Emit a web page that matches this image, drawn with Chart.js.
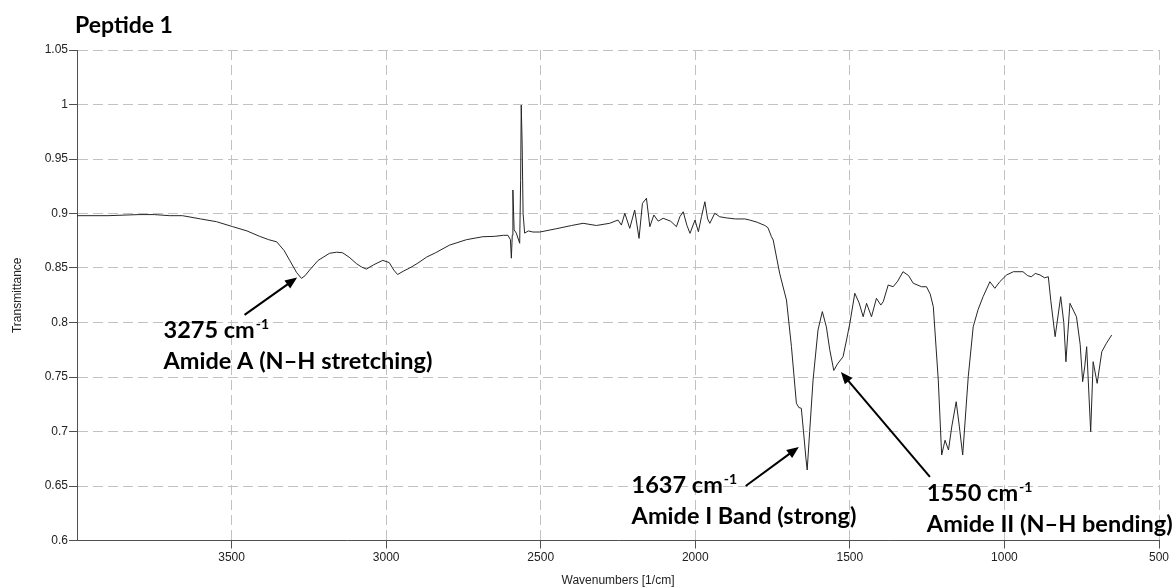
<!DOCTYPE html>
<html>
<head>
<meta charset="utf-8">
<script src="https://cdn.jsdelivr.net/npm/chart.js@4"></script>
<style>
  html, body { margin: 0; padding: 0; background: #fff; }
  #wrap { width: 1176px; height: 588px; position: relative; }
</style>
</head>
<body>
<div id="wrap"><canvas id="irChart" width="1176" height="588"></canvas></div>
<script>
var wavenumbers = [4000,3900,3800,3750,3700,3659,3600,3549,3497,3450,3409,3380,3354,3330,3312,3290,3274,3262,3248,3220,
  3183,3160,3141,3120,3096,3080,3064,3040,3011,2990,2975,2963,2945,2924,2900,2869,2840,2795,2740,2687,
  2650,2620,2606,2598,2595,2592,2590,2586,2579,2568,2565,2563,2560,2557,2552,2540,2525,2503,2450,2400,
  2363,2320,2277,2250,2239,2228,2212,2196,2182,2171,2158,2147,2134,2120,2104,2080,2061,2050,2039,2027,
  2017,2001,1990,1980,1969,1960,1953,1937,1921,1900,1870,1840,1824,1800,1775,1765,1754,1748,1727,1705,
  1689,1673,1665,1657,1650,1642,1638,1630,1619,1603,1589,1576,1565,1552,1540,1522,1510,1500,1484,1470,
  1457,1446,1430,1414,1400,1392,1376,1360,1345,1328,1310,1295,1268,1252,1240,1230,1214,1203,1197,1192,
  1181,1170,1156,1146,1135,1117,1101,1085,1069,1047,1031,1015,993,971,940,925,913,900,885,870,
  858,850,836,818,808,801,795,788,767,755,747,740,734,721,713,700,685,670,653];

var transmittance = [0.898,0.898,0.899,0.899,0.898,0.898,0.895,0.8925,0.888,0.884,0.879,0.876,0.874,0.866,0.857,0.846,0.8405,0.843,0.848,0.857,
  0.8635,0.8645,0.864,0.860,0.854,0.851,0.849,0.853,0.857,0.855,0.848,0.844,0.847,0.850,0.854,0.860,0.864,0.871,0.876,0.8787,
  0.879,0.880,0.880,0.876,0.859,0.880,0.9216,0.885,0.882,0.8727,0.93,0.9995,0.963,0.90,0.882,0.884,0.883,0.883,0.886,0.889,
  0.891,0.889,0.891,0.894,0.8894,0.9002,0.8864,0.9032,0.8772,0.9093,0.914,0.8879,0.8986,0.893,0.8956,0.893,0.8879,0.897,0.9016,0.889,
  0.8818,0.894,0.8833,0.897,0.9108,0.895,0.891,0.9002,0.897,0.896,0.895,0.895,0.894,0.892,0.889,0.887,0.879,0.8757,0.845,0.8206,
  0.778,0.726,0.722,0.7213,0.70,0.675,0.6647,0.70,0.7473,0.7931,0.81,0.796,0.775,0.756,0.762,0.7686,0.785,0.7993,0.8268,0.818,
  0.8053,0.8176,0.8053,0.8222,0.816,0.8191,0.8344,0.8328,0.838,0.8466,0.843,0.836,0.8328,0.8328,0.826,0.8145,0.7472,0.6784,0.686,0.692,
  0.683,0.705,0.7273,0.705,0.6784,0.7503,0.7961,0.812,0.8237,0.8374,0.8314,0.8374,0.8436,0.8466,0.8466,0.843,0.842,0.845,0.8436,0.841,
  0.842,0.82,0.787,0.8237,0.80,0.764,0.79,0.8176,0.8053,0.78,0.7457,0.76,0.7778,0.6998,0.764,0.7442,0.7732,0.781,0.7885];

// peak labels: arrow tail/head and text anchor in data units
var peakLabels = ["3275", "1637", "1550"];
var peakNames = ["Amide A (N\u2013H stretching)", "Amide I Band (strong)", "Amide II (N\u2013H bending)"];
var arrowFrom = [[3458, 0.807], [1837, 0.650], [1241, 0.6583]];
var arrowTo = [[3288, 0.8412], [1665, 0.6858], [1529, 0.7546]];
var textAt = [[3720, 0.7858], [2206, 0.6436], [1251, 0.6362]];

var points = wavenumbers.map(function (w, i) { return { x: w, y: transmittance[i] }; });

var labelFont = "bold 23.5px Lato, 'Open Sans', sans-serif";
var supFont = "bold 14px Lato, 'Open Sans', sans-serif";

function drawArrow(ctx, x1, y1, x2, y2) {
  var ang = Math.atan2(y2 - y1, x2 - x1);
  var len = 12, half = 5;
  ctx.beginPath();
  ctx.moveTo(x1, y1);
  ctx.lineTo(x2 - Math.cos(ang) * len * 0.8, y2 - Math.sin(ang) * len * 0.8);
  ctx.stroke();
  ctx.beginPath();
  ctx.moveTo(x2, y2);
  ctx.lineTo(x2 - Math.cos(ang) * len + Math.sin(ang) * half, y2 - Math.sin(ang) * len - Math.cos(ang) * half);
  ctx.lineTo(x2 - Math.cos(ang) * len - Math.sin(ang) * half, y2 - Math.sin(ang) * len + Math.cos(ang) * half);
  ctx.closePath();
  ctx.fill();
}

var annotations = {
  id: "annotations",
  afterDatasetsDraw: function (chart) {
    var ctx = chart.ctx, xs = chart.scales.x, ys = chart.scales.y;
    ctx.save();
    ctx.strokeStyle = "#000";
    ctx.fillStyle = "#000";
    ctx.lineWidth = 2;
    for (var i = 0; i < peakLabels.length; i++) {
      drawArrow(ctx, xs.getPixelForValue(arrowFrom[i][0]), ys.getPixelForValue(arrowFrom[i][1]),
        xs.getPixelForValue(arrowTo[i][0]), ys.getPixelForValue(arrowTo[i][1]));
      var tx = xs.getPixelForValue(textAt[i][0]);
      var ty = ys.getPixelForValue(textAt[i][1]);
      ctx.textBaseline = "alphabetic";
      ctx.textAlign = "left";
      ctx.font = labelFont;
      var first = peakLabels[i] + " cm";
      ctx.fillText(first, tx, ty);
      var w = ctx.measureText(first).width;
      ctx.font = supFont;
      ctx.fillText("-1", tx + w + 1, ty - 9);
      ctx.font = labelFont;
      ctx.fillText(peakNames[i], tx, ty + 31);
    }
    // chart title
    ctx.font = "bold 23px Lato, 'Open Sans', sans-serif";
    ctx.fillText("Peptide 1", 75, 33);
    ctx.restore();
  }
};

var gridDash = [10, 5];

new Chart(document.getElementById("irChart").getContext("2d"), {
  type: "scatter",
  data: {
    datasets: [{
      data: points,
      showLine: true,
      borderColor: "#262626",
      borderWidth: 1,
      pointRadius: 0,
      tension: 0
    }]
  },
  options: {
    responsive: false,
    animation: false,
    layout: { padding: { top: 50, right: 17, left: 0, bottom: 0 } },
    plugins: { legend: { display: false }, tooltip: { enabled: false }, title: { display: false } },
    scales: {
      x: {
        type: "linear",
        reverse: true,
        min: 500,
        max: 4000,
        afterBuildTicks: function (axis) {
          axis.ticks = axis.ticks.filter(function (t) { return t.value !== 4000; });
        },
        afterFit: function (axis) { axis.height = 47.5; },
        ticks: {
          stepSize: 500,
          padding: 2,
          color: "#222",
          font: { family: "'Liberation Sans', Arial, sans-serif", size: 12 },
          callback: function (v) { return String(v); }
        },
        grid: { color: "#c2c2c2", tickColor: "#505050", tickLength: 8, lineWidth: 1 },
        border: { color: "#505050", width: 1, dash: gridDash },
        title: {
          display: true,
          text: "Wavenumbers [1/cm]",
          color: "#222",
          font: { family: "'Liberation Sans', Arial, sans-serif", size: 12 },
          padding: { top: 0, bottom: 0 }
        }
      },
      y: {
        min: 0.6,
        max: 1.05,
        afterFit: function (axis) { axis.width = 77; },
        ticks: {
          stepSize: 0.05,
          padding: 1,
          color: "#222",
          font: { family: "'Liberation Sans', Arial, sans-serif", size: 12 },
          callback: function (v) { return String(Math.round(v * 100) / 100); }
        },
        grid: { color: "#c2c2c2", tickColor: "#505050", tickLength: 8, lineWidth: 1 },
        border: { color: "#505050", width: 1, dash: gridDash },
        title: {
          display: true,
          text: "Transmittance",
          color: "#222",
          font: { family: "'Liberation Sans', Arial, sans-serif", size: 12 },
          padding: { top: 10, bottom: 0 }
        }
      }
    }
  },
  plugins: [annotations]
});
</script>
</body>
</html>
